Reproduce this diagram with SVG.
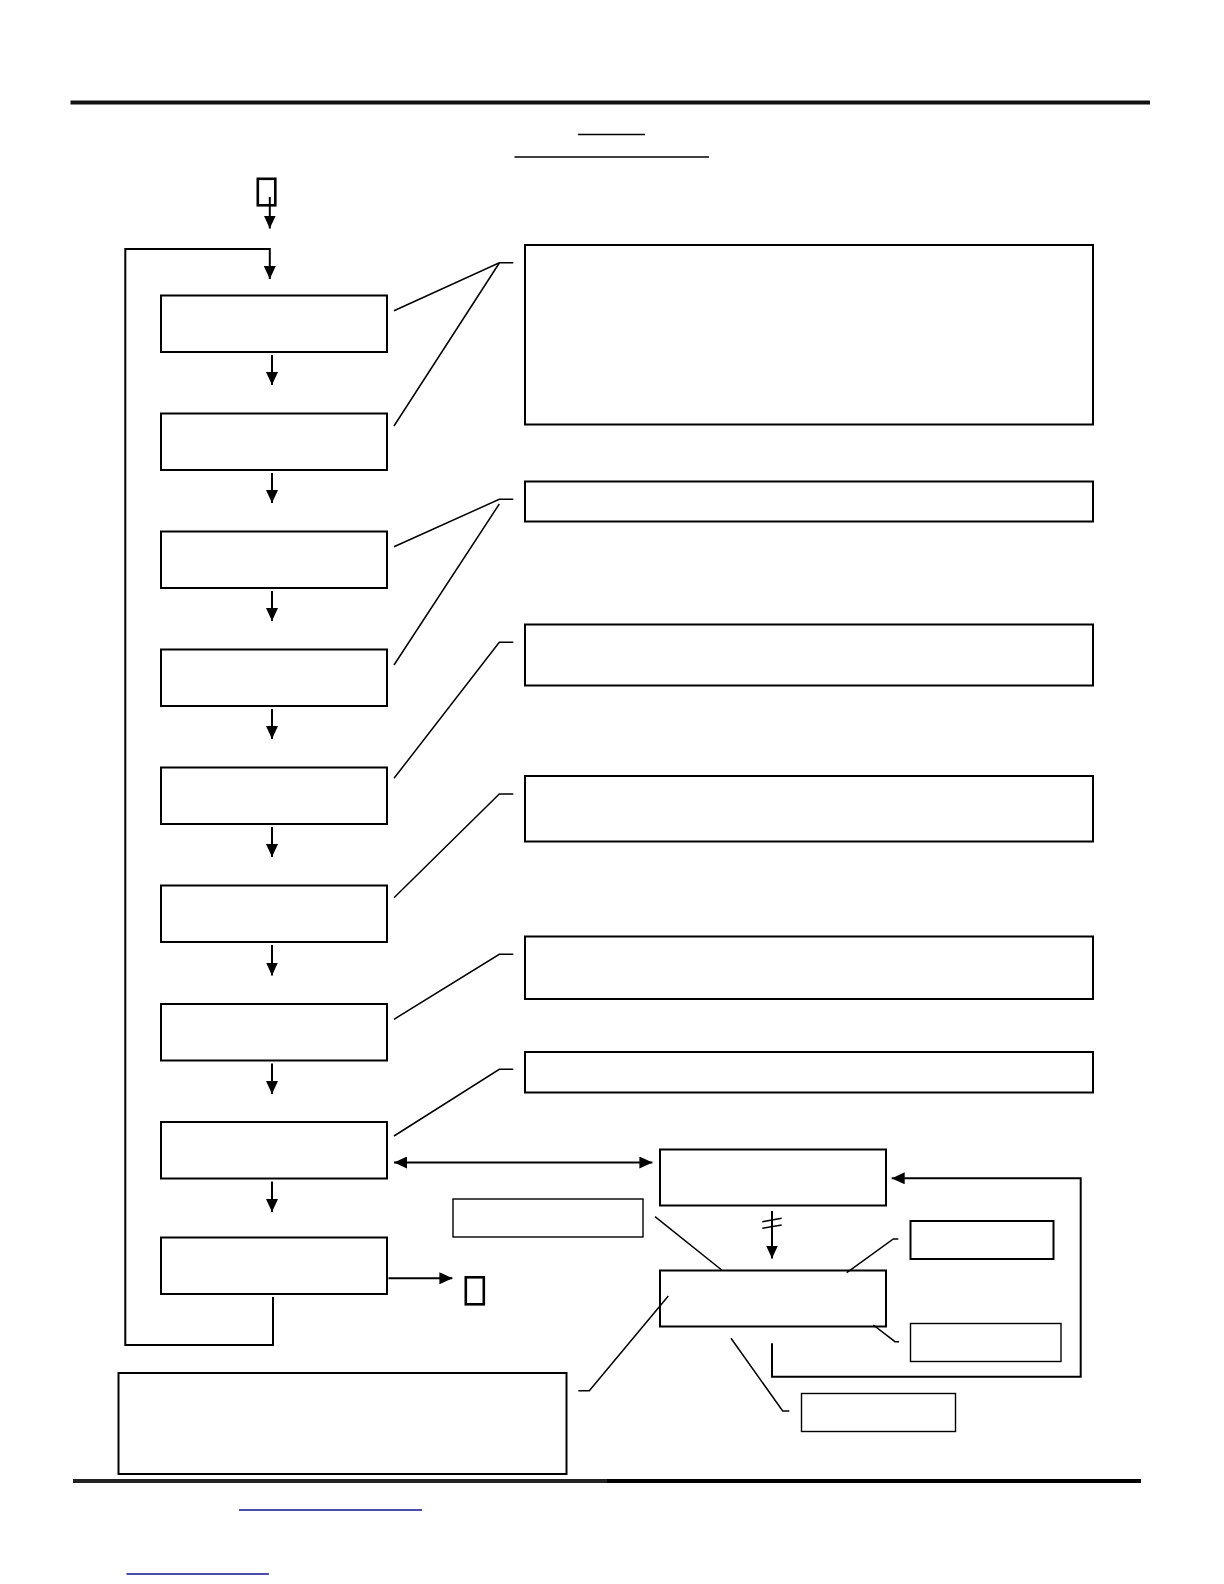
<svg xmlns="http://www.w3.org/2000/svg" width="1224" height="1584" viewBox="0 0 1224 1584">
<style>
.box{fill:#fff;stroke:#000;stroke-width:2}
.thin{fill:#fff;stroke:#000;stroke-width:1.4}
.ln{fill:none;stroke:#000;stroke-width:1.5}
.ar{fill:none;stroke:#000;stroke-width:2}
.tofu{fill:none;stroke:#000;stroke-width:2.6}
.blue{stroke:#10108f;stroke-width:1.5}
</style>
<defs>
<marker id="ah" viewBox="0 0 13 12" refX="13" refY="6" markerWidth="13" markerHeight="12" markerUnits="userSpaceOnUse" orient="auto-start-reverse">
<path d="M0,0 L13,6 L0,12 z" fill="#000"/>
</marker>
</defs>
<rect x="0" y="0" width="1224" height="1584" fill="#fff"/>
<g id="page-rules">
<line x1="70.5" y1="102.5" x2="1150" y2="102.5" stroke="#111" stroke-width="3.8"/>
<line x1="578" y1="134.5" x2="645" y2="134.5" stroke="#000" stroke-width="1.3"/>
<line x1="514.5" y1="157" x2="709" y2="157" stroke="#000" stroke-width="1.3"/>
<line x1="73" y1="1481" x2="608" y2="1481" stroke="#222" stroke-width="4"/>
<line x1="607" y1="1481" x2="1141" y2="1481" stroke="#000" stroke-width="4"/>
<line class="blue" x1="239" y1="1510" x2="422" y2="1510"/>
<line class="blue" x1="126.5" y1="1574" x2="269" y2="1574"/>
</g>
<g id="glyph-start"><rect class="tofu" x="257.8" y="178.8" width="17.5" height="26.5"/></g>
<g id="glyph-end"><rect class="tofu" x="465.8" y="1277.3" width="18" height="27"/></g>
<g id="step1"><rect class="box" x="161" y="295.5" width="226" height="56.5"/></g>
<g id="step2"><rect class="box" x="161" y="413.5" width="226" height="56.5"/></g>
<g id="step3"><rect class="box" x="161" y="531.5" width="226" height="56.5"/></g>
<g id="step4"><rect class="box" x="161" y="649.5" width="226" height="56.5"/></g>
<g id="step5"><rect class="box" x="161" y="767.5" width="226" height="56.5"/></g>
<g id="step6"><rect class="box" x="161" y="885.5" width="226" height="56.5"/></g>
<g id="step7"><rect class="box" x="161" y="1004" width="226" height="56.5"/></g>
<g id="step8"><rect class="box" x="161" y="1122" width="226" height="56.5"/></g>
<g id="step9"><rect class="box" x="161" y="1237.5" width="226" height="56.5"/></g>
<g id="note-a"><rect class="box" x="525" y="245" width="568" height="179.5"/></g>
<g id="note-b"><rect class="box" x="525" y="481.5" width="568" height="40"/></g>
<g id="note-c"><rect class="box" x="525" y="624.5" width="568" height="61"/></g>
<g id="note-d"><rect class="box" x="525" y="776" width="568" height="65.5"/></g>
<g id="note-e"><rect class="box" x="525" y="936.5" width="568" height="62.5"/></g>
<g id="note-f"><rect class="box" x="525" y="1052" width="568" height="40.5"/></g>
<g id="node-g"><rect class="box" x="660" y="1149.5" width="226" height="56"/></g>
<g id="node-h"><rect class="thin" x="453" y="1199" width="190" height="38"/></g>
<g id="node-i"><rect class="box" x="660" y="1270.5" width="226" height="56"/></g>
<g id="node-j"><rect class="box" x="910.5" y="1221" width="143" height="38"/></g>
<g id="node-k"><rect class="thin" x="910.5" y="1323.5" width="150.5" height="38"/></g>
<g id="node-l"><rect class="thin" x="801.5" y="1393.5" width="154" height="38"/></g>
<g id="note-m"><rect class="box" x="118.5" y="1373" width="448" height="101"/></g>
<g id="connectors">
<line class="ar" x1="269.8" y1="197" x2="269.8" y2="228.5" marker-end="url(#ah)"/>
<path class="ar" d="M273,1297 V1345 H125.3 V249 H269.8 V279" marker-end="url(#ah)"/>
<line class="ar" x1="272" y1="355" x2="272" y2="385" marker-end="url(#ah)"/>
<line class="ar" x1="272" y1="473" x2="272" y2="503" marker-end="url(#ah)"/>
<line class="ar" x1="272" y1="591" x2="272" y2="621" marker-end="url(#ah)"/>
<line class="ar" x1="272" y1="709" x2="272" y2="739" marker-end="url(#ah)"/>
<line class="ar" x1="272" y1="827" x2="272" y2="857" marker-end="url(#ah)"/>
<line class="ar" x1="272" y1="945" x2="272" y2="975.5" marker-end="url(#ah)"/>
<line class="ar" x1="272" y1="1063.5" x2="272" y2="1094" marker-end="url(#ah)"/>
<line class="ar" x1="272" y1="1181.5" x2="272" y2="1212" marker-end="url(#ah)"/>
<line class="ar" x1="388.5" y1="1278.3" x2="452.4" y2="1278.3" marker-end="url(#ah)"/>
<line class="ar" x1="394" y1="1162.5" x2="652.4" y2="1162.5" marker-start="url(#ah)" marker-end="url(#ah)"/>
<path class="ar" d="M772,1343.3 V1376.7 H1080.7 V1178.3 H891.7" marker-end="url(#ah)"/>
<line class="ar" x1="772" y1="1211" x2="772" y2="1258.5" marker-end="url(#ah)"/>
<line class="ln" x1="762.3" y1="1221.7" x2="781.7" y2="1218.3"/>
<line class="ln" x1="762.3" y1="1228.3" x2="781.7" y2="1225"/>
<path class="ln" d="M394,310.7 L499.3,262.7 H513.3"/>
<path class="ln" d="M394,426 L499.3,263"/>
<path class="ln" d="M394,546.7 L499.3,499.3 H513.3"/>
<path class="ln" d="M394,665 L499.3,504"/>
<path class="ln" d="M394,778.3 L499.3,642.3 H513.3"/>
<path class="ln" d="M394,897.7 L499.3,794 H513.3"/>
<path class="ln" d="M394,1019.3 L499.3,954.3 H513.3"/>
<path class="ln" d="M394,1136 L499.3,1069.3 H513.3"/>
<path class="ln" d="M655,1216.7 L721.7,1270"/>
<path class="ln" d="M846.7,1272.7 L893.3,1239 H898.3"/>
<path class="ln" d="M873.3,1325 L895,1341.7 H899"/>
<path class="ln" d="M731,1338.3 L782.7,1411 H789.3"/>
<path class="ln" d="M668.3,1296 L589.3,1390.7 H578.3"/>
</g>
</svg>
